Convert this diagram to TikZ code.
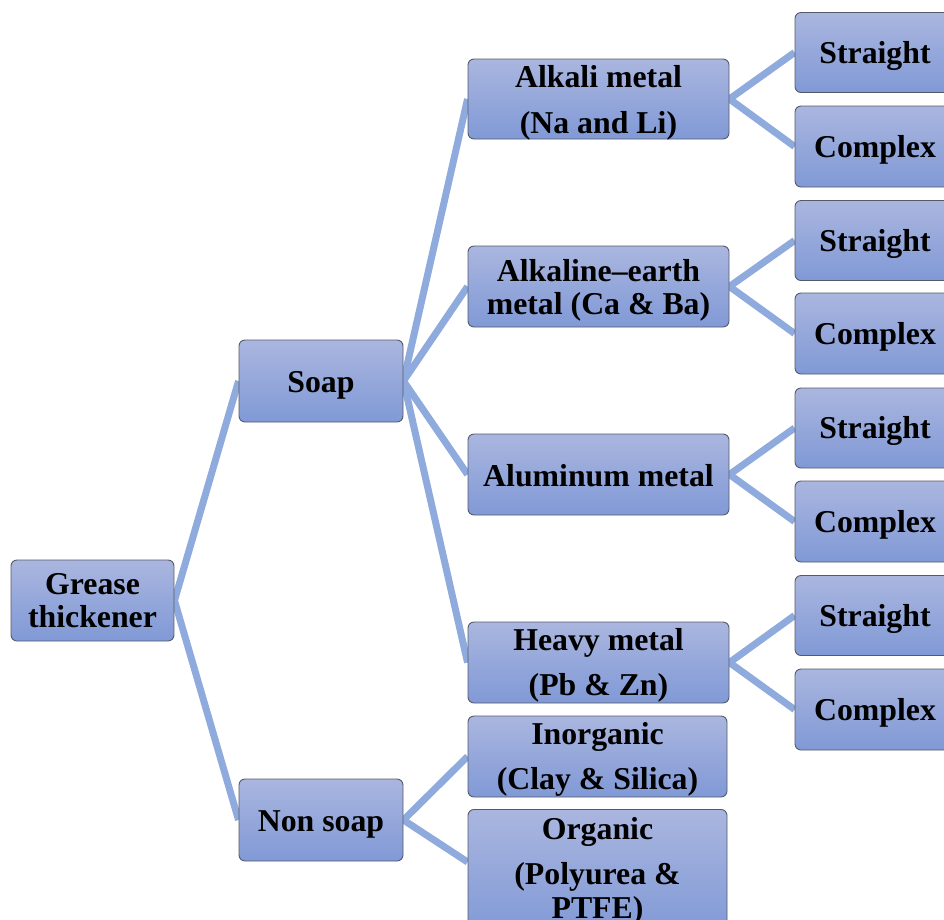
\documentclass[tikz,border=0pt]{standalone}
\usepackage{fontspec}
\setmainfont{Liberation Serif}
\usetikzlibrary{backgrounds}
\definecolor{boxtop}{RGB}{170,182,223}
\definecolor{boxbot}{RGB}{128,153,214}
\definecolor{boxline}{RGB}{85,90,105}
\definecolor{linkc}{RGB}{143,170,220}
\tikzset{
  box/.style={draw=boxline, line width=0.9pt, rounded corners=6pt,
    top color=boxtop, bottom color=boxbot, inner sep=0pt},
  lbl/.style={align=center, font=\fontsize{31.8}{33.5}\selectfont\bfseries, inner sep=0pt},
  link/.style={draw=linkc, line width=7pt},
}
\begin{document}
\begin{tikzpicture}[x=1pt,y=-1pt]
\clip (0,0) rectangle (944,919);
\useasboundingbox (0,0) rectangle (944,919);
% boxes
\node[box, minimum width=163pt, minimum height=81pt] (g) at (92.5,600.5) {};
\node[box, minimum width=164pt, minimum height=82pt] (s) at (321,381) {};
\node[box, minimum width=164pt, minimum height=82pt] (ns) at (321,820) {};
\node[box, minimum width=261pt, minimum height=80pt] (a1) at (598.5,99) {};
\node[box, minimum width=261pt, minimum height=81pt] (a2) at (598.5,286.5) {};
\node[box, minimum width=261pt, minimum height=81pt] (a3) at (598.5,474.5) {};
\node[box, minimum width=261pt, minimum height=81pt] (a4) at (598.5,662.5) {};
\node[box, minimum width=259pt, minimum height=81pt] (in) at (597.5,756.5) {};
\node[box, minimum width=259pt, minimum height=126pt, anchor=north] (or) at (597.5,809) {};
\foreach \i/\y in {1/52.5,3/240.5,5/428,7/615.5}{
  \node[box, minimum width=170pt, minimum height=80pt] (r\i) at (880,\y) {};
  \node[lbl] (r\i t) at ([xshift=-5pt,yshift=-3pt]r\i.center) {Straight};
}
\foreach \i/\y in {2/146.5,4/333.5,6/521.5,8/709.5}{
  \node[box, minimum width=170pt, minimum height=81pt] (r\i) at (880,\y) {};
  \node[lbl] (r\i t) at ([xshift=-5pt,yshift=-3pt]r\i.center) {Complex};
}
% labels
\node[lbl] (gt) at (g.center) {Grease\\thickener};
\node[lbl] (st) at ([yshift=-4pt]s.center) {Soap};
\node[lbl] (nst) at ([yshift=-4pt]ns.center) {Non soap};
\node[lbl] (a1t) at ([yshift=-4pt]a1.center) {Alkali metal\\[12pt](Na and Li)};
\node[lbl] (a2t) at ([yshift=-4pt]a2.center) {Alkaline–earth\\metal (Ca \& Ba)};
\node[lbl] (a3t) at ([yshift=-1pt]a3.center) {Aluminum metal};
\node[lbl] (a4t) at ([yshift=-3pt]a4.center) {Heavy metal\\[12pt](Pb \& Zn)};
\node[lbl] (int) at ([yshift=-3pt]in.center) {Inorganic\\[12pt](Clay \& Silica)};
\node[lbl, anchor=north] (ort) at ([yshift=-8pt]or.north) {Organic\\[12pt](Polyurea \&\\PTFE)};
% connectors
\begin{scope}[on background layer]
\draw[link] (g.east) -- (s.west);
\draw[link] (g.east) -- (ns.west);
\foreach \t in {a1,a2,a3,a4} \draw[link] (s.east) -- (\t.west);
\draw[link] (ns.east) -- (in.west);
\draw[link] (ns.east) -- (or.west |- 0,862);
\draw[link] (a1.east) -- (r1.west); \draw[link] (a1.east) -- (r2.west);
\draw[link] (a2.east) -- (r3.west); \draw[link] (a2.east) -- (r4.west);
\draw[link] (a3.east) -- (r5.west); \draw[link] (a3.east) -- (r6.west);
\draw[link] (a4.east) -- (r7.west); \draw[link] (a4.east) -- (r8.west);
\end{scope}
\end{tikzpicture}
\end{document}
